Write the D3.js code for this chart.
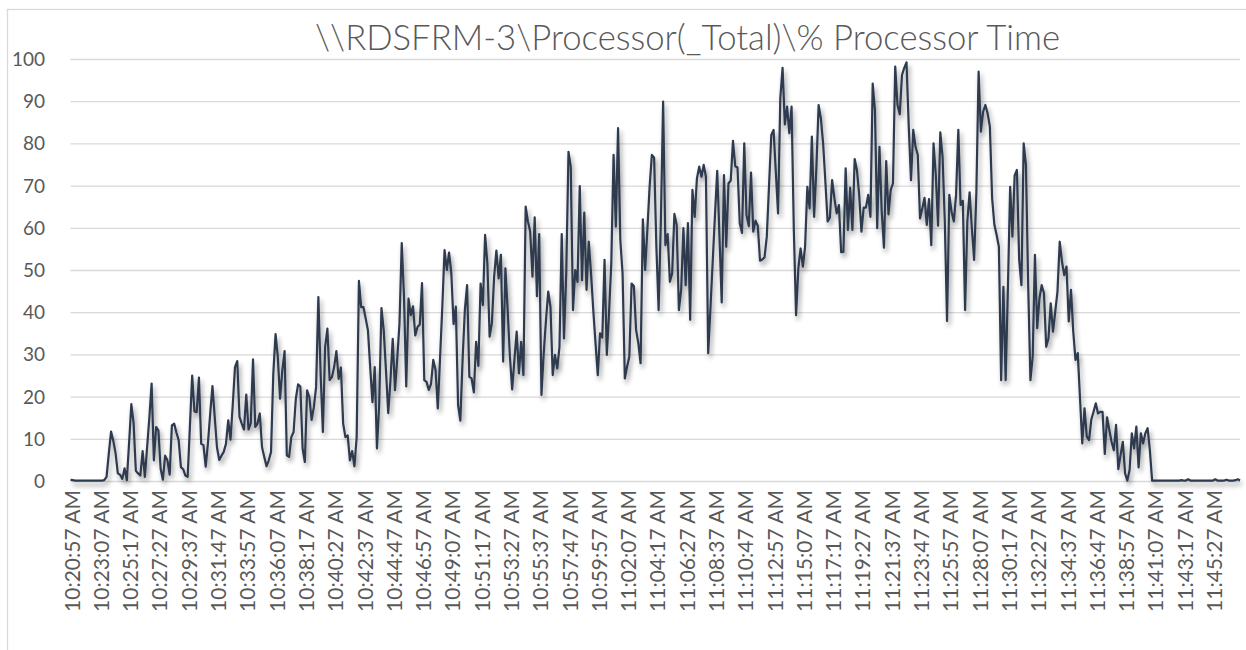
<!DOCTYPE html>
<html>
<head>
<meta charset="utf-8">
<script src="https://cdn.jsdelivr.net/npm/d3@7/dist/d3.min.js"></script>
<style>
  html, body { margin: 0; padding: 0; background: #ffffff; }
  svg { display: block; }
</style>
</head>
<body>
<svg id="chart" width="1246" height="650"></svg>
<script>
const chartTitle = "\\\\RDSFRM-3\\Processor(_Total)\\% Processor Time";

const tickLabels = [
  "10:20:57 AM","10:23:07 AM","10:25:17 AM","10:27:27 AM","10:29:37 AM","10:31:47 AM",
  "10:33:57 AM","10:36:07 AM","10:38:17 AM","10:40:27 AM","10:42:37 AM","10:44:47 AM",
  "10:46:57 AM","10:49:07 AM","10:51:17 AM","10:53:27 AM","10:55:37 AM","10:57:47 AM",
  "10:59:57 AM","11:02:07 AM","11:04:17 AM","11:06:27 AM","11:08:37 AM","11:10:47 AM",
  "11:12:57 AM","11:15:07 AM","11:17:17 AM","11:19:27 AM","11:21:37 AM","11:23:47 AM",
  "11:25:57 AM","11:28:07 AM","11:30:17 AM","11:32:27 AM","11:34:37 AM","11:36:47 AM",
  "11:38:57 AM","11:41:07 AM","11:43:17 AM","11:45:27 AM"
];
const tickEvery = 13; // one label per 13 samples (10 s sampling, 2 min 10 s between labels)

const yTicks = [0, 10, 20, 30, 40, 50, 60, 70, 80, 90, 100];

// % Processor Time, one value per 10 s sample
const cpuValues = [
  0.3,0.2,0.1,0.1,0.1,0.1,0.1,0.1,0.1,0.1,
  0.1,0.1,0.1,0.1,0.1,0.2,1,6.5,11.7,9.5,
  6.6,1.8,1.5,0.5,3,0.2,9,18.2,13.7,2.4,
  1.8,1.3,7.1,1,8,15,23.1,4.9,12.8,12,
  2.9,0.3,6,4.9,1.5,13.2,13.6,11.5,9.7,3.3,
  2.8,1.3,1,13,25,16.5,16.3,24.5,8.8,8.5,
  3.4,9,16,22.5,15.2,8,5,6,6.9,8.8,
  14.4,9.8,18,27,28.4,15.2,13.6,12.2,20.5,12.2,
  13.7,28.8,12.8,13.6,16,8,5.7,3.5,4.9,6.9,
  25.4,34.8,29.4,19.5,26.2,30.8,6.1,5.7,10.4,11.6,
  19.5,22.9,22.4,7.7,4.5,21.5,19.9,14.5,17.5,22.3,
  43.6,25.4,11.6,31.8,36.1,23.9,24.6,27,30.8,24.2,
  26.9,13.6,10.4,10.8,4.9,7.1,3.5,10.4,47.4,41.2,
  41.2,38.5,35.7,27,18.7,27,7.7,18.3,41,35.7,
  26.2,16.1,23.9,33.7,21.5,29,37.3,56.4,43.6,22.4,
  43.2,39.3,41.4,34.5,36.5,37.1,46.9,23.9,23.5,21.6,
  23,28.7,26.3,17.2,29.1,41.3,54.7,50,54.1,49.2,
  37.2,41.3,18,14.3,28.7,40.5,46.4,24.7,24.3,21,
  33,27.3,46.8,41.7,58.3,51.6,34.2,37.4,48.4,54.6,
  48,53.6,28.3,50.4,40.5,29.5,21.7,28.7,35.4,25.5,
  33,25.1,65,61.5,59.1,48.4,62.5,43.8,58.5,20.4,
  30.3,38,44.9,41.3,25.1,29.9,26.7,31.8,58.5,33.8,
  49.2,78,74.5,40.5,50,47.2,69.9,47.6,63.6,45.3,
  56.7,49.2,40.5,32.6,25.1,35,34,52.4,29.9,40,
  51.6,77.3,60.3,83.6,57.1,49.2,24.3,27.1,29.5,46.8,
  46.2,35.8,32.6,27.9,62,50,59.5,69.7,77.3,76.6,
  55.5,40.5,61.8,89.9,55.9,58.5,47.2,49.2,63.3,60.7,
  40.5,45.3,59.9,46.4,61.1,38.2,69,62.6,71.7,74.5,
  72.1,74.9,72.1,30.3,41,52,63,73.5,57.9,42.3,
  72.5,55.5,70.5,71.2,80.6,74.6,74.3,61.1,58.8,80,
  63,60.4,73.1,59.1,61.7,60.5,52.2,52.5,53,57.9,
  70,82,83.2,73.3,63.4,90.7,97.9,84.5,88.7,82.4,
  88.7,59.5,39.3,50.4,55.1,50.8,55.5,69.7,64.6,81.6,
  62.6,74.1,89.1,85.9,80,70.9,61.5,62.4,71.3,67,
  63.4,65.4,54.2,54.3,74.1,59.5,69.5,59.5,76.3,73.7,
  67.8,59.1,64.8,64.8,67.8,62.6,94.2,87.9,59.9,79.2,
  63.8,55.3,75.8,63.2,69,70.5,98.2,89.1,86.9,96.2,
  97.9,99.2,84,71.3,83.2,79.2,77.3,62.2,64.6,67.1,
  60.7,66.8,55.9,80,72.5,60.5,82.6,76.9,61.5,37.9,
  67.8,63.8,61.5,67.8,83.2,65.4,66.4,40.5,61.5,68.4,
  59.9,52.4,68.2,97,82.8,87.5,89.1,87.1,84,67,
  60.7,58.3,55.5,23.9,46,23.9,45.7,69.7,57.9,72.4,
  73.7,52.4,46.4,80,74.9,46.4,23.9,29.5,53.6,36.2,
  43.3,46.4,44.5,31.8,33.8,42.1,35.4,40.1,44.9,56.7,
  52,48.8,50.8,37.8,45.3,35.4,28.7,30.3,19.6,8.9,
  17.2,10.5,9.7,14.5,16.4,18.4,16,16.4,16.4,6.4,
  15.1,12.1,9.3,7.3,13.3,2.8,6.2,9.3,1.8,0.1,
  2.6,11.3,7.7,12.9,3.2,11.3,8.9,11.3,12.5,7.3,
  0.1,0.1,0.1,0.1,0.1,0.1,0.1,0.1,0.1,0.1,
  0.1,0.1,0.1,0.2,0.1,0.1,0.4,0.1,0.1,0.1,
  0.1,0.1,0.1,0.1,0.1,0.1,0.1,0.1,0.4,0.1,
  0.1,0.1,0.1,0.3,0.1,0.1,0.1,0.2,0.4,0.1
];

const W = 1246, H = 650;
const plot = { left: 70.5, right: 1240, top: 59, bottom: 481 };

const svg = d3.select("#chart");

// shadow filter for the series line
const defs = svg.append("defs");
const f = defs.append("filter").attr("id", "shadow")
  .attr("x", "-5%").attr("y", "-5%").attr("width", "110%").attr("height", "115%");
f.append("feGaussianBlur").attr("in", "SourceAlpha").attr("stdDeviation", 2.4).attr("result", "blur");
f.append("feOffset").attr("in", "blur").attr("dx", 2).attr("dy", 3.5).attr("result", "off");
f.append("feComponentTransfer").attr("in", "off").attr("result", "soft")
  .append("feFuncA").attr("type", "linear").attr("slope", 0.4);
const merge = f.append("feMerge");
merge.append("feMergeNode").attr("in", "soft");
merge.append("feMergeNode").attr("in", "SourceGraphic");

// chart frame (partly outside the picture)
svg.append("rect")
  .attr("x", 7.5).attr("y", 9.5)
  .attr("width", 1400).attr("height", 700)
  .attr("fill", "none").attr("stroke", "#d9d9d9").attr("stroke-width", 1.3);

const x = d3.scaleLinear()
  .domain([0, cpuValues.length - 1])
  .range([plot.left, plot.right]);

const y = d3.scaleLinear()
  .domain([0, 100])
  .range([plot.bottom, plot.top]);

// gridlines
const yAxis = d3.axisLeft(y)
  .tickValues(yTicks)
  .tickSize(-(plot.right - plot.left))
  .tickPadding(24)
  .tickFormat(d3.format("d"));

const gy = svg.append("g")
  .attr("transform", `translate(${plot.left},0)`)
  .call(yAxis);
gy.select(".domain").remove();
gy.selectAll(".tick line").attr("stroke", "#d9d9d9").attr("stroke-width", 1.3);
gy.selectAll(".tick text")
  .attr("fill", "#595959")
  .style("font-family", "Lato, 'Open Sans', sans-serif")
  .style("font-size", "19px")
  .attr("x", 45 - plot.left)
  .attr("dy", "0.34em");

// x axis with rotated time labels
const tickIdx = tickLabels.map((_, k) => k * tickEvery);
const xAxis = d3.axisBottom(x)
  .tickValues(tickIdx)
  .tickSize(0)
  .tickFormat((d, k) => tickLabels[k]);

const gx = svg.append("g")
  .attr("transform", `translate(0,${plot.bottom})`)
  .call(xAxis);
gx.select(".domain").remove();
gx.selectAll(".tick text")
  .attr("fill", "#595959")
  .style("font-family", "Lato, 'Open Sans', sans-serif")
  .style("font-size", "21px")
  .attr("text-anchor", "end")
  .attr("transform", "rotate(-90)")
  .attr("x", -9)
  .attr("y", 1)
  .attr("dy", "0.36em");

// series line
const line = d3.line()
  .x((d, i) => x(i))
  .y(d => y(d));

svg.append("path")
  .datum(cpuValues)
  .attr("d", line)
  .attr("fill", "none")
  .attr("stroke", "#2e3a4f")
  .attr("stroke-width", 2.2)
  .attr("stroke-linejoin", "round")
  .attr("filter", "url(#shadow)");

// title
svg.append("text")
  .attr("x", 315)
  .attr("y", 50)
  .attr("fill", "#595959")
  .style("font-family", "Lato, 'Open Sans', sans-serif")
  .style("font-weight", "300")
  .style("font-size", "35px")
  .attr("textLength", 745)
  .attr("lengthAdjust", "spacingAndGlyphs")
  .text(chartTitle);
</script>
</body>
</html>
